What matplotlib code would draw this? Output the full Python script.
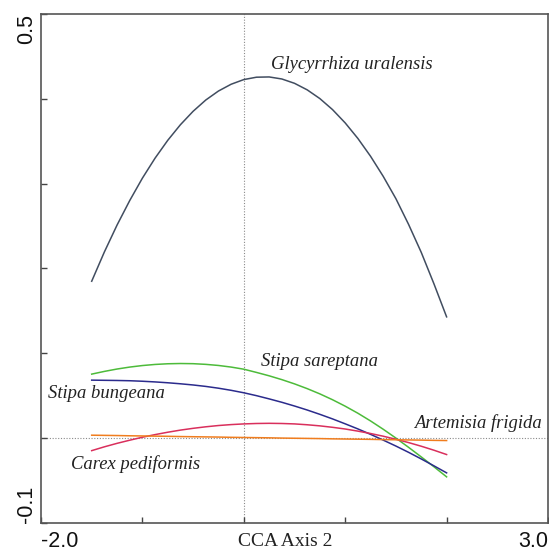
import matplotlib.pyplot as plt

axis2 = [-1.5, -1.375, -1.25, -1.125, -1.0, -0.875, -0.75, -0.625, -0.5, -0.375,
         -0.25, -0.125, 0.0, 0.125, 0.25, 0.375, 0.5, 0.625, 0.75, 0.875,
         1.0, 1.125, 1.25, 1.375, 1.5, 1.625, 1.75, 1.875, 2.0]

glycyrrhiza = [0.1850, 0.2195, 0.2512, 0.2801, 0.3065, 0.3301, 0.3511, 0.3695, 0.3853, 0.3986,
               0.4092, 0.4172, 0.4227, 0.4255, 0.4258, 0.4234, 0.4183, 0.4106, 0.4003, 0.3873,
               0.3716, 0.3533, 0.3323, 0.3086, 0.2823, 0.2520, 0.2190, 0.1820, 0.1430]
stipa_sareptana = [0.0755, 0.0787, 0.0815, 0.0838, 0.0856, 0.0869, 0.0877, 0.0880, 0.0878, 0.0870,
                   0.0857, 0.0838, 0.0813, 0.0775, 0.0735, 0.0690, 0.0640, 0.0584, 0.0522, 0.0453,
                   0.0377, 0.0294, 0.0203, 0.0105, 0.0001, -0.0108, -0.0221, -0.0337, -0.0456]
stipa_bungeana = [0.0684, 0.0682, 0.0680, 0.0677, 0.0671, 0.0663, 0.0653, 0.0641, 0.0627, 0.0610,
                  0.0589, 0.0564, 0.0535, 0.0501, 0.0463, 0.0423, 0.0379, 0.0332, 0.0281, 0.0227,
                  0.0169, 0.0109, 0.0045, -0.0023, -0.0093, -0.0167, -0.0245, -0.0326, -0.0409]
carex = [-0.0147, -0.0102, -0.0061, -0.0024, 0.0011, 0.0042, 0.0070, 0.0095, 0.0116, 0.0134,
         0.0149, 0.0160, 0.0168, 0.0173, 0.0175, 0.0173, 0.0168, 0.0158, 0.0145, 0.0128,
         0.0108, 0.0083, 0.0055, 0.0023, -0.0013, -0.0052, -0.0095, -0.0142, -0.0193]
artemisia = [0.0035, 0.0033, 0.0031, 0.0028, 0.0026, 0.0024, 0.0022, 0.0019, 0.0017, 0.0015,
             0.0013, 0.0010, 0.0008, 0.0006, 0.0004, 0.0001, -0.0001, -0.0003, -0.0005, -0.0008,
             -0.0010, -0.0012, -0.0014, -0.0017, -0.0019, -0.0021, -0.0023, -0.0026, -0.0028]

species = ["Glycyrrhiza uralensis", "Stipa sareptana", "Stipa bungeana", "Carex pediformis", "Artemisia frigida"]
curves = [glycyrrhiza, stipa_sareptana, stipa_bungeana, carex, artemisia]
colors = ["#414d60", "#4dbb3a", "#2b2b8c", "#d92f5c", "#f07d1e"]
# species name anchors (left edge, vertical centre) in data units
label_pos = [(0.27, 0.441), (0.17, 0.0899), (-1.93, 0.053), (-1.70, -0.031), (1.68, 0.0177)]

fig = plt.figure(figsize=(5.49, 5.52), dpi=100)
ax = fig.add_axes([41 / 549, 1 - 523 / 552, 507 / 549, 509 / 552])

# dotted zero lines
ax.axvline(0, color="#8a8a8a", linestyle=(0, (1, 1.5)), linewidth=0.8, zorder=1)
ax.axhline(0, color="#8a8a8a", linestyle=(0, (1, 1.5)), linewidth=0.8, zorder=1)

for vals, c in zip(curves, colors):
    ax.plot(axis2, vals, color=c, linewidth=1.1, zorder=2)

for name, (lx, ly) in zip(species, label_pos):
    ax.text(lx, ly, name, family="Liberation Serif", style="italic",
            fontsize=13.4, color="#222222", ha="left", va="center")

ax.set_xlim(-2.0, 3.0)
ax.set_ylim(-0.1, 0.5)

ax.set_xticks([-2, -1, 0, 1, 2, 3])
ax.set_xticklabels(["-2.0", "", "", "", "", "3.0"])
ax.set_yticks([-0.1, 0.0, 0.1, 0.2, 0.3, 0.4, 0.5])
ax.set_yticklabels(["-0.1", "", "", "", "", "", "0.5"], rotation=90)

ax.tick_params(direction="in", length=4, width=1.0, color="#444444",
               labelsize=15.5, labelcolor="#111111")
ax.tick_params(axis="x", pad=5.5)
ax.tick_params(axis="y", pad=3)

for lab in ax.get_xticklabels() + ax.get_yticklabels():
    lab.set_family("Liberation Sans")
ax.get_xticklabels()[0].set_ha("left")
ax.get_xticklabels()[-1].set_ha("right")
ax.get_yticklabels()[0].set_va("bottom")
ax.get_yticklabels()[-1].set_va("top")

for sp in ax.spines.values():
    sp.set_color("#555555")
    sp.set_linewidth(1.2)

fig.text(285 / 549, 1 - 541 / 552, "CCA Axis 2", family="Liberation Serif",
         fontsize=14, color="#222222", ha="center", va="center")

fig.savefig("out.png", dpi=100)
